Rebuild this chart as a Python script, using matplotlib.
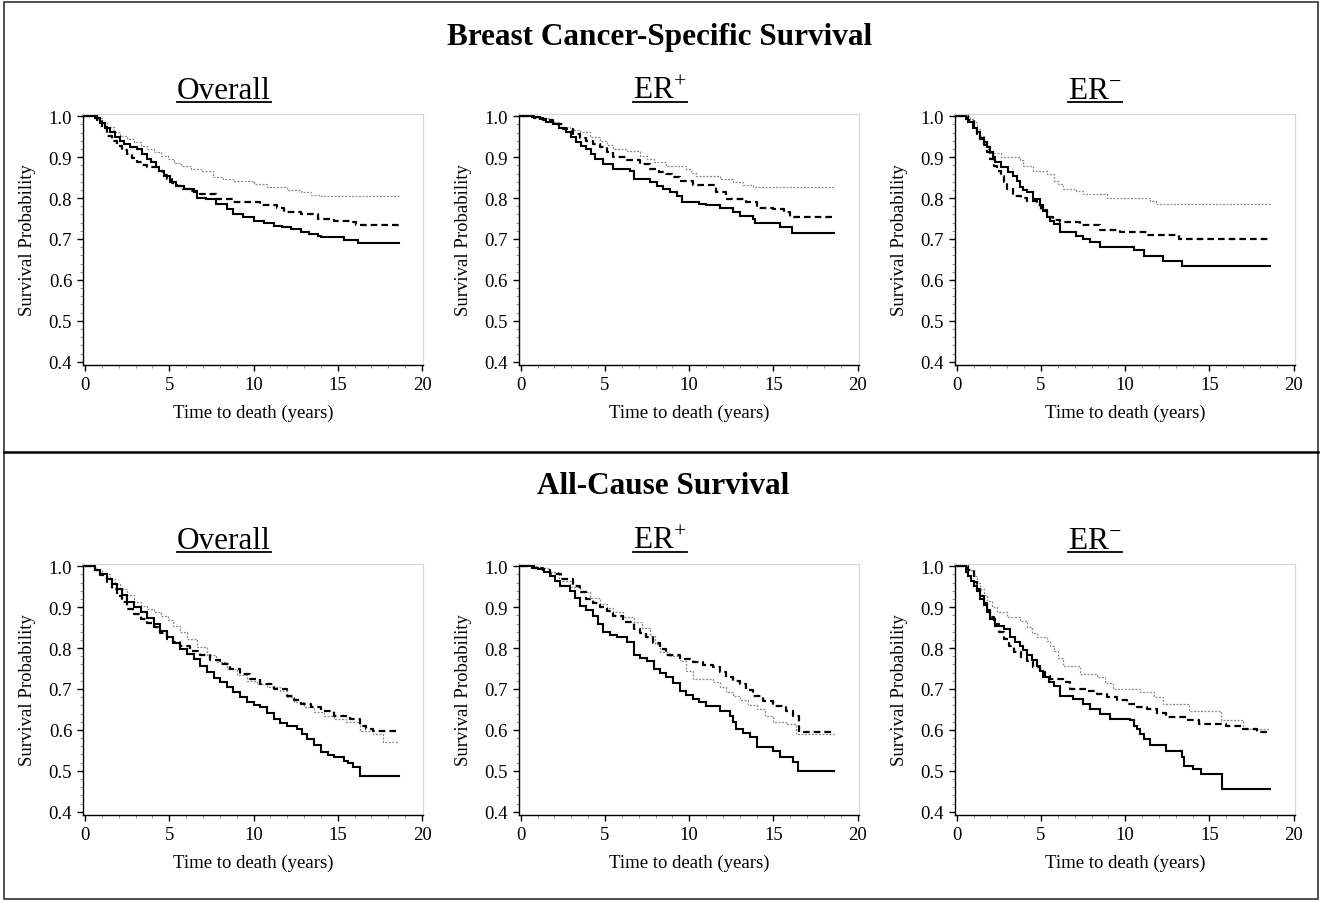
import matplotlib
matplotlib.use("Agg")
import matplotlib.pyplot as plt
from matplotlib.lines import Line2D
from matplotlib.patches import Rectangle
from matplotlib.ticker import MultipleLocator, FormatStrFormatter

plt.rcParams['font.family'] = ['Liberation Serif', 'DejaVu Serif']
plt.rcParams['mathtext.fontset'] = 'custom'
plt.rcParams['mathtext.rm'] = 'Liberation Serif'
plt.rcParams['mathtext.it'] = 'Liberation Serif:italic'
plt.rcParams['mathtext.bf'] = 'Liberation Serif:bold'

# ---------------- text ----------------
section_titles = ["Breast Cancer-Specific Survival", "All-Cause Survival"]
subgroup_names = ["Overall", "ER", "ER"]
subgroup_sups = ["", "+", "\u2212"]
y_label = "Survival Probability"
x_label = "Time to death (years)"
x_ticks = [0, 5, 10, 15, 20]
y_ticks = [0.4, 0.5, 0.6, 0.7, 0.8, 0.9, 1.0]

# ---------------- data (Kaplan-Meier step curves) ----------------
# Breast cancer-specific survival, overall
bcss_all_solid_t = [0, 0.6, 0.9, 1.2, 1.5, 1.8, 2.1, 2.3, 2.7, 3.1, 3.4, 3.7, 3.9, 4.2, 4.4, 4.7, 5.05, 5.4, 5.85, 6.45, 6.65, 7.2, 7.8, 8.4, 8.8, 9.4, 10.0, 10.6, 11.2, 11.7, 12.2, 12.8, 13.3, 13.8, 14.0, 15.4, 16.2, 18.65]
bcss_all_solid_s = [1.0, 0.995, 0.983, 0.972, 0.961, 0.95, 0.94, 0.932, 0.926, 0.92, 0.908, 0.896, 0.888, 0.876, 0.867, 0.853, 0.839, 0.83, 0.822, 0.814, 0.80, 0.798, 0.786, 0.773, 0.761, 0.753, 0.745, 0.739, 0.733, 0.729, 0.725, 0.716, 0.712, 0.708, 0.704, 0.698, 0.689, 0.689]
bcss_all_dash_t = [0, 0.7, 1.0, 1.3, 1.6, 1.9, 2.2, 2.5, 2.8, 3.1, 3.4, 3.7, 4.3, 4.6, 4.85, 5.15, 5.45, 5.8, 6.25, 6.85, 7.8, 8.8, 10.4, 11.4, 11.8, 12.8, 13.8, 14.75, 15.9, 16.1, 18.65]
bcss_all_dash_s = [1.0, 0.99, 0.975, 0.953, 0.94, 0.928, 0.918, 0.908, 0.898, 0.888, 0.88, 0.875, 0.867, 0.857, 0.847, 0.838, 0.83, 0.822, 0.818, 0.81, 0.798, 0.79, 0.782, 0.777, 0.767, 0.761, 0.749, 0.745, 0.741, 0.735, 0.735]
bcss_all_dot_t = [0, 0.7, 1.0, 1.3, 1.7, 2.1, 2.5, 2.9, 3.3, 3.7, 4.1, 4.5, 4.9, 5.3, 5.7, 6.3, 6.9, 7.6, 8.2, 8.8, 10.0, 10.8, 12.0, 12.8, 13.4, 14.0, 18.65]
bcss_all_dot_s = [1.0, 0.995, 0.985, 0.975, 0.961, 0.953, 0.945, 0.937, 0.928, 0.92, 0.912, 0.904, 0.896, 0.887, 0.879, 0.872, 0.867, 0.851, 0.847, 0.843, 0.835, 0.826, 0.821, 0.814, 0.808, 0.806, 0.806]

# Breast cancer-specific survival, ER+
bcss_pos_solid_t = [0, 0.7, 1.15, 1.5, 1.9, 2.3, 2.7, 3.0, 3.3, 3.6, 3.9, 4.15, 4.4, 4.9, 5.5, 6.5, 6.7, 7.7, 8.1, 8.45, 8.85, 9.25, 9.6, 10.6, 11.0, 11.8, 12.6, 13.0, 13.8, 13.9, 15.4, 16.1, 18.6]
bcss_pos_solid_s = [1.0, 0.998, 0.993, 0.987, 0.981, 0.972, 0.961, 0.95, 0.936, 0.928, 0.92, 0.908, 0.896, 0.883, 0.871, 0.867, 0.847, 0.839, 0.83, 0.822, 0.814, 0.806, 0.79, 0.786, 0.782, 0.777, 0.765, 0.757, 0.749, 0.739, 0.729, 0.714, 0.714]
bcss_pos_dash_t = [0, 0.8, 1.3, 1.9, 2.5, 3.1, 3.5, 3.9, 4.3, 4.7, 5.1, 5.5, 6.3, 7.1, 7.7, 8.2, 8.65, 9.0, 9.45, 10.2, 11.6, 12.2, 13.4, 14.0, 15.0, 15.6, 16.0, 18.6]
bcss_pos_dash_s = [1.0, 0.995, 0.99, 0.981, 0.97, 0.957, 0.948, 0.94, 0.932, 0.924, 0.912, 0.9, 0.892, 0.883, 0.871, 0.865, 0.859, 0.851, 0.843, 0.832, 0.814, 0.798, 0.79, 0.777, 0.773, 0.765, 0.755, 0.755]
bcss_pos_dot_t = [0, 1.0, 1.6, 2.3, 2.9, 3.5, 4.1, 4.7, 5.1, 5.5, 6.3, 7.1, 7.5, 7.9, 8.65, 9.8, 10.1, 10.4, 11.8, 12.6, 13.2, 13.8, 18.6]
bcss_pos_dot_s = [1.0, 0.995, 0.985, 0.973, 0.967, 0.961, 0.95, 0.94, 0.93, 0.92, 0.916, 0.904, 0.896, 0.888, 0.879, 0.871, 0.862, 0.855, 0.847, 0.839, 0.832, 0.826, 0.826]

# Breast cancer-specific survival, ER-
bcss_neg_solid_t = [0, 0.55, 0.7, 0.95, 1.2, 1.4, 1.6, 1.8, 2.0, 2.15, 2.3, 2.6, 3.05, 3.35, 3.55, 3.75, 3.95, 4.15, 4.55, 4.95, 5.15, 5.35, 5.55, 5.75, 6.15, 7.1, 7.5, 7.9, 8.5, 10.5, 11.1, 12.25, 13.4, 18.6]
bcss_neg_solid_s = [1.0, 0.993, 0.985, 0.972, 0.961, 0.948, 0.936, 0.924, 0.912, 0.9, 0.888, 0.875, 0.863, 0.853, 0.843, 0.826, 0.82, 0.814, 0.798, 0.782, 0.768, 0.753, 0.745, 0.737, 0.716, 0.708, 0.70, 0.692, 0.68, 0.672, 0.659, 0.645, 0.635, 0.635]
bcss_neg_dash_t = [0, 0.7, 1.0, 1.2, 1.4, 1.6, 1.8, 2.0, 2.2, 2.4, 2.6, 2.8, 3.0, 3.35, 3.8, 4.15, 4.75, 5.0, 5.35, 5.7, 6.15, 7.3, 8.5, 9.7, 11.3, 13.2, 18.6]
bcss_neg_dash_s = [1.0, 0.99, 0.969, 0.957, 0.945, 0.93, 0.912, 0.895, 0.879, 0.866, 0.855, 0.84, 0.822, 0.806, 0.8, 0.794, 0.782, 0.77, 0.753, 0.747, 0.742, 0.734, 0.723, 0.716, 0.71, 0.70, 0.70]
bcss_neg_dot_t = [0, 0.8, 1.0, 1.2, 1.4, 1.6, 1.8, 2.0, 2.6, 3.75, 3.95, 4.55, 5.35, 5.75, 6.0, 6.3, 7.1, 7.5, 8.9, 11.45, 11.85, 18.6]
bcss_neg_dot_s = [1.0, 0.993, 0.985, 0.97, 0.953, 0.937, 0.92, 0.91, 0.9, 0.892, 0.879, 0.867, 0.859, 0.843, 0.835, 0.822, 0.818, 0.81, 0.80, 0.794, 0.786, 0.786]

# All-cause survival, overall
acs_all_solid_t = [0, 0.6, 0.9, 1.3, 1.6, 1.9, 2.2, 2.5, 2.9, 3.3, 3.7, 4.1, 4.45, 4.85, 5.25, 5.65, 6.05, 6.45, 6.85, 7.25, 7.65, 8.0, 8.4, 8.8, 9.2, 9.6, 10.0, 10.4, 10.8, 11.2, 11.6, 12.0, 12.6, 12.9, 13.2, 13.6, 14.0, 14.4, 14.75, 15.35, 15.6, 15.9, 16.3, 18.65]
acs_all_solid_s = [1.0, 0.99, 0.98, 0.969, 0.957, 0.945, 0.93, 0.912, 0.9, 0.888, 0.874, 0.859, 0.843, 0.826, 0.812, 0.798, 0.786, 0.773, 0.757, 0.741, 0.728, 0.716, 0.704, 0.692, 0.68, 0.667, 0.66, 0.655, 0.641, 0.627, 0.617, 0.61, 0.602, 0.59, 0.578, 0.562, 0.545, 0.538, 0.533, 0.525, 0.518, 0.509, 0.488, 0.488]
acs_all_dash_t = [0, 0.6, 0.9, 1.3, 1.6, 1.9, 2.2, 2.5, 2.9, 3.3, 3.7, 4.1, 4.45, 4.85, 5.25, 5.65, 6.25, 6.85, 7.4, 8.0, 8.6, 9.2, 9.8, 10.4, 11.2, 12.0, 12.4, 12.8, 13.4, 14.0, 14.75, 15.7, 16.3, 16.7, 17.1, 18.65]
acs_all_dash_s = [1.0, 0.99, 0.978, 0.961, 0.945, 0.928, 0.912, 0.896, 0.884, 0.871, 0.861, 0.851, 0.836, 0.822, 0.814, 0.806, 0.794, 0.782, 0.772, 0.761, 0.749, 0.737, 0.725, 0.712, 0.70, 0.684, 0.673, 0.663, 0.655, 0.647, 0.635, 0.627, 0.61, 0.602, 0.598, 0.598]
acs_all_dot_t = [0, 0.6, 1.0, 1.5, 1.8, 2.1, 2.5, 2.9, 3.3, 3.7, 4.1, 4.5, 4.9, 5.25, 5.65, 6.05, 6.65, 7.25, 7.8, 8.4, 9.0, 9.6, 10.2, 10.8, 11.6, 12.0, 12.4, 13.0, 13.6, 14.2, 14.75, 15.5, 16.3, 17.1, 17.7, 18.65]
acs_all_dot_s = [1.0, 0.99, 0.98, 0.969, 0.957, 0.945, 0.93, 0.912, 0.904, 0.896, 0.888, 0.879, 0.868, 0.855, 0.84, 0.822, 0.802, 0.782, 0.765, 0.749, 0.735, 0.72, 0.712, 0.704, 0.696, 0.68, 0.667, 0.655, 0.643, 0.635, 0.627, 0.619, 0.598, 0.59, 0.571, 0.571]

# All-cause survival, ER+
acs_pos_solid_t = [0, 0.7, 1.0, 1.4, 1.75, 2.05, 2.35, 2.9, 3.2, 3.5, 3.9, 4.3, 4.6, 4.9, 5.3, 5.7, 6.3, 6.7, 7.1, 7.5, 7.9, 8.25, 8.65, 9.05, 9.45, 9.8, 10.2, 10.6, 11.0, 11.8, 12.4, 12.6, 12.8, 13.2, 13.6, 14.0, 14.95, 15.4, 16.15, 16.45, 18.6]
acs_pos_solid_s = [1.0, 0.997, 0.993, 0.985, 0.977, 0.965, 0.953, 0.94, 0.922, 0.904, 0.892, 0.879, 0.86, 0.839, 0.832, 0.826, 0.814, 0.782, 0.776, 0.769, 0.749, 0.74, 0.729, 0.715, 0.696, 0.686, 0.676, 0.667, 0.659, 0.647, 0.635, 0.62, 0.602, 0.592, 0.582, 0.557, 0.549, 0.533, 0.521, 0.50, 0.50]
acs_pos_dash_t = [0, 0.8, 1.3, 1.75, 2.4, 3.1, 3.5, 3.9, 4.3, 4.7, 5.1, 5.5, 6.1, 6.7, 7.1, 7.45, 7.85, 8.25, 8.65, 9.45, 10.2, 10.8, 11.4, 11.8, 12.2, 12.6, 13.0, 13.4, 13.8, 14.4, 14.95, 15.75, 16.15, 16.5, 18.6]
acs_pos_dash_s = [1.0, 0.995, 0.99, 0.981, 0.968, 0.953, 0.936, 0.92, 0.91, 0.9, 0.89, 0.879, 0.863, 0.847, 0.836, 0.826, 0.812, 0.798, 0.782, 0.773, 0.765, 0.759, 0.753, 0.741, 0.729, 0.72, 0.712, 0.698, 0.684, 0.671, 0.659, 0.647, 0.635, 0.596, 0.596]
acs_pos_dot_t = [0, 1.0, 1.6, 2.3, 2.9, 3.5, 4.1, 4.7, 5.1, 5.5, 6.1, 6.7, 7.2, 7.65, 7.95, 8.25, 8.8, 9.45, 9.8, 10.2, 11.4, 11.8, 12.2, 12.6, 13.0, 13.5, 14.0, 14.5, 14.95, 15.75, 16.35, 18.6]
acs_pos_dot_s = [1.0, 0.995, 0.985, 0.965, 0.95, 0.936, 0.922, 0.908, 0.898, 0.888, 0.876, 0.863, 0.848, 0.83, 0.81, 0.79, 0.78, 0.769, 0.745, 0.725, 0.716, 0.704, 0.692, 0.682, 0.672, 0.66, 0.651, 0.635, 0.619, 0.614, 0.59, 0.59]

# All-cause survival, ER-
acs_neg_solid_t = [0, 0.55, 0.65, 0.85, 1.0, 1.2, 1.4, 1.6, 1.8, 2.0, 2.25, 2.8, 3.15, 3.45, 3.75, 3.95, 4.15, 4.45, 4.75, 4.95, 5.15, 5.45, 5.75, 6.15, 6.9, 7.5, 7.9, 8.5, 9.1, 10.3, 10.5, 10.7, 10.9, 11.1, 11.45, 12.45, 13.35, 13.5, 14.0, 14.5, 15.75, 18.6]
acs_neg_solid_s = [1.0, 0.985, 0.977, 0.965, 0.953, 0.94, 0.92, 0.905, 0.888, 0.872, 0.855, 0.847, 0.826, 0.815, 0.806, 0.795, 0.782, 0.77, 0.757, 0.745, 0.729, 0.718, 0.708, 0.684, 0.676, 0.663, 0.651, 0.639, 0.627, 0.623, 0.61, 0.602, 0.59, 0.578, 0.562, 0.549, 0.533, 0.512, 0.504, 0.492, 0.456, 0.456]
acs_neg_dash_t = [0, 0.7, 1.0, 1.2, 1.4, 1.6, 1.8, 2.0, 2.2, 2.5, 2.8, 3.1, 3.4, 3.8, 4.15, 4.55, 4.95, 5.25, 5.55, 6.3, 6.7, 7.7, 8.3, 8.9, 9.5, 10.1, 10.7, 11.3, 11.9, 12.45, 13.6, 14.4, 16.0, 17.0, 17.8, 18.6]
acs_neg_dash_s = [1.0, 0.99, 0.961, 0.945, 0.928, 0.91, 0.892, 0.876, 0.859, 0.84, 0.822, 0.806, 0.79, 0.778, 0.769, 0.755, 0.741, 0.733, 0.725, 0.716, 0.70, 0.696, 0.688, 0.68, 0.672, 0.663, 0.657, 0.651, 0.641, 0.631, 0.623, 0.614, 0.61, 0.602, 0.596, 0.594]
acs_neg_dot_t = [0, 0.7, 1.0, 1.2, 1.4, 1.6, 1.8, 2.1, 2.4, 3.0, 3.75, 4.15, 4.45, 4.75, 5.35, 5.55, 5.75, 6.0, 6.3, 7.3, 8.3, 8.8, 9.3, 10.9, 11.7, 12.25, 13.8, 15.7, 17.0, 18.6]
acs_neg_dot_s = [1.0, 0.99, 0.977, 0.96, 0.945, 0.93, 0.916, 0.9, 0.888, 0.875, 0.867, 0.851, 0.838, 0.826, 0.818, 0.806, 0.794, 0.775, 0.757, 0.737, 0.729, 0.715, 0.70, 0.692, 0.68, 0.663, 0.647, 0.623, 0.602, 0.602]

panels = [
    [  # row 0: breast cancer-specific
        [(bcss_all_dot_t, bcss_all_dot_s), (bcss_all_dash_t, bcss_all_dash_s), (bcss_all_solid_t, bcss_all_solid_s)],
        [(bcss_pos_dot_t, bcss_pos_dot_s), (bcss_pos_dash_t, bcss_pos_dash_s), (bcss_pos_solid_t, bcss_pos_solid_s)],
        [(bcss_neg_dot_t, bcss_neg_dot_s), (bcss_neg_dash_t, bcss_neg_dash_s), (bcss_neg_solid_t, bcss_neg_solid_s)],
    ],
    [  # row 1: all-cause
        [(acs_all_dot_t, acs_all_dot_s), (acs_all_dash_t, acs_all_dash_s), (acs_all_solid_t, acs_all_solid_s)],
        [(acs_pos_dot_t, acs_pos_dot_s), (acs_pos_dash_t, acs_pos_dash_s), (acs_pos_solid_t, acs_pos_solid_s)],
        [(acs_neg_dot_t, acs_neg_dot_s), (acs_neg_dash_t, acs_neg_dash_s), (acs_neg_solid_t, acs_neg_solid_s)],
    ],
]

line_styles = [
    dict(color='#8c8c8c', lw=0.9, linestyle=(0, (1.6, 1.2))),
    dict(color='black', lw=1.6, linestyle=(0, (3.0, 1.8))),
    dict(color='black', lw=1.5, linestyle='-'),
]

for row in panels:
    for curves in row:
        for t, s in curves:
            assert len(t) == len(s), (len(t), len(s), t[:3])

# ---------------- layout ----------------
W, H = 1322, 903
fig = plt.figure(figsize=(W / 100, H / 100), dpi=100)

def fx(x):
    return x / W

def fy(y):
    return 1 - y / H

col_x0 = [85, 520.7, 956.7]     # pixel x of t=0
row_y1 = [117.3, 567.3]         # pixel y of S=1.0
px_per_year = 16.85
px_per_unit = 409.0
xlim = (-0.1, 20.06)
ylim = (0.3927, 1.0056)

for r in range(2):
    for c in range(3):
        x0 = col_x0[c]
        y1 = row_y1[r]
        lpx = x0 + xlim[0] * px_per_year
        rpx = x0 + xlim[1] * px_per_year
        tpx = y1 - (ylim[1] - 1.0) * px_per_unit
        bpx = y1 + (1.0 - ylim[0]) * px_per_unit
        ax = fig.add_axes([fx(lpx), fy(bpx), (rpx - lpx) / W, (bpx - tpx) / H])
        for (t, s), st in zip(panels[r][c], line_styles):
            ax.plot(t, s, drawstyle='steps-post', solid_joinstyle='miter', **st)
        ax.set_xlim(*xlim)
        ax.set_ylim(*ylim)
        ax.set_xticks(x_ticks)
        ax.set_yticks(y_ticks)
        ax.yaxis.set_major_formatter(FormatStrFormatter('%.1f'))
        ax.xaxis.set_minor_locator(MultipleLocator(1))
        ax.yaxis.set_minor_locator(MultipleLocator(0.02))
        ax.tick_params(which='major', direction='out', length=4, width=1.0,
                       color='black', labelsize=13.5, pad=4)
        ax.tick_params(which='minor', direction='out', length=2.3, width=0.8,
                       color='#9a9a9a')
        for side in ['top', 'right']:
            ax.spines[side].set_color('#d6d6d6')
            ax.spines[side].set_linewidth(0.8)
        for side in ['left', 'bottom']:
            ax.spines[side].set_color('black')
            ax.spines[side].set_linewidth(1.0)
        # axis labels
        cx = (lpx + rpx) / 2
        fig.text(fx(cx), fy(413 + 450 * r), x_label, ha='center', va='center', fontsize=13.5)
        fig.text(fx(x0 - 57), fy(240 + 450 * r), y_label, ha='center', va='center',
                 rotation=90, fontsize=13.5)

# section titles
fig.text(fx(660), fy(45), section_titles[0], ha='center', va='baseline',
         fontsize=22.5, fontweight='bold')
fig.text(fx(663), fy(494), section_titles[1], ha='center', va='baseline',
         fontsize=22.5, fontweight='bold')

# subgroup titles with underline
sub_cx = [224, 660, 1095]
renderer = fig.canvas.get_renderer()
for r in range(2):
    base = 99 + 450 * r
    for c in range(3):
        if subgroup_sups[c]:
            label = subgroup_names[c] + r"${}^{" + subgroup_sups[c] + "}$"
        else:
            label = subgroup_names[c]
        txt = fig.text(fx(sub_cx[c]), fy(base), label, ha='center', va='baseline',
                       fontsize=22.5)
        bb = txt.get_window_extent(renderer=renderer)
        uy = fy(base + 4)
        fig.add_artist(Line2D([bb.x0 / W, bb.x1 / W], [uy, uy], color='black', lw=1.3,
                              transform=fig.transFigure))

# frames
fig.add_artist(Rectangle((fx(3.5), fy(900)), (1318 - 3.5) / W, (900 - 2.5) / H,
                         transform=fig.transFigure, fill=False, edgecolor='#333333', lw=1.2))
fig.add_artist(Line2D([fx(3.5), fx(1318)], [fy(452.5), fy(452.5)], color='black', lw=1.8,
                      transform=fig.transFigure))

fig.savefig('out.png', dpi=100)
